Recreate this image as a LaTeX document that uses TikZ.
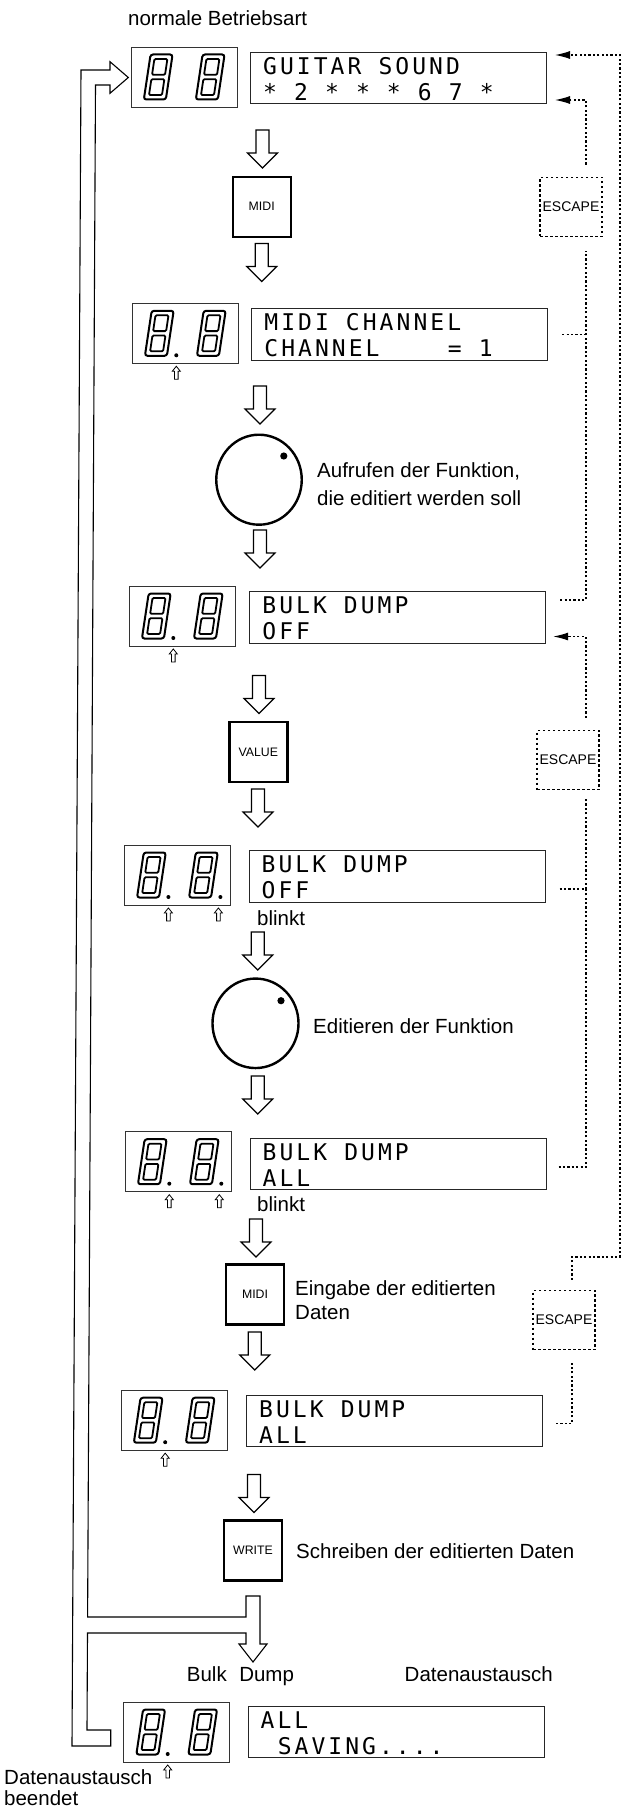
\documentclass[tikz,border=0pt]{standalone}
\usepackage{fontspec}
\setmainfont{Liberation Sans}
\newfontfamily\lcdfont[LetterSpace=13.2]{DejaVu Sans Mono}
\usetikzlibrary{arrows.meta,calc,shapes.geometric}
\newlength\lcdpitch
\setlength\lcdpitch{17.1pt}
\tikzset{
  led/.style={draw=black!80, line width=0.9pt, minimum width=106pt, minimum height=60pt, inner sep=0pt},
  lcd/.style={draw=black!85, line width=1pt, minimum width=296pt, minimum height=51.5pt, inner sep=0pt},
  lcdtxt/.style={font=\lcdfont\fontsize{23}{23}\selectfont, anchor=base west, inner sep=0pt},
  btn/.style={draw, line width=2.4pt, minimum width=58pt, minimum height=60pt, inner sep=0pt, font=\fontsize{12.3}{14}\selectfont},
  escbox/.style={draw, line width=1.1pt, dash pattern=on 2.5pt off 2.5pt, minimum width=62pt, minimum height=59pt, inner sep=0pt, font=\fontsize{14}{16}\selectfont},
  knob/.style={draw, ellipse, line width=2.4pt, inner sep=0pt},
  lbl/.style={font=\fontsize{20.5}{24}\selectfont, anchor=base west, inner sep=0pt},
  esc/.style={line width=1.2pt, dash pattern=on 2.2pt off 2.2pt},
  escarrow/.style={esc, -{Latex[length=15pt,width=8pt]}},
  pipe/.style={line width=1.1pt, line join=miter},
  digit/.pic={
    \begin{scope}[xslant=0.15]
      \draw[line width=2pt, rounded corners=2.5pt] (-11,-22.5) rectangle (11,22.5);
      \draw[line width=1.8pt, rounded corners=1.2pt] (-6.5,-18) rectangle (6.5,-2.2);
      \draw[line width=1.8pt, rounded corners=1.2pt] (-6.5,2.2) rectangle (6.5,18);
    \end{scope}},
  bigarrow/.pic={
    \draw[line width=1.2pt, line join=miter] (-6.5,0) -- (-6.5,23) -- (-15,23) -- (0,38) -- (15,23) -- (6.5,23) -- (6.5,0) -- cycle;},
  smallarrow/.pic={
    \draw[line width=0.8pt] (0,0) -- (4,5) -- (1.8,5) -- (1.8,13) -- (-1.8,13) -- (-1.8,5) -- (-4,5) -- cycle;}
}
\newcommand\lsp{\hspace*{\lcdpitch}}
\newcommand\ledunit[4]{%
  \node[led] (#1) at (#2,#3) {};
  \pic at ($(#1)+(-26,0)$) {digit};
  \pic at ($(#1)+(26,0)$) {digit};
  \ifnum#4>0
    \fill ($(#1)+(-9,22)$) circle (2pt);
    \pic at ($(#1.south)+(-9,2.5)$) {smallarrow};
  \fi
  \ifnum#4>1
    \fill ($(#1)+(43,22)$) circle (2pt);
    \pic at ($(#1.south)+(41,2.5)$) {smallarrow};
  \fi
}
\newcommand\lcdunit[5]{%
  \node[lcd] (#1) at (#2,#3) {};
  \node[lcdtxt] at ($(#1.north west)+(13,22.5)$) {#4};
  \node[lcdtxt] at ($(#1.north west)+(13,48.5)$) {#5};
}
\begin{document}
\begin{tikzpicture}[x=1pt,y=-1pt]
\useasboundingbox (0,0) rectangle (625,1809);

% ---- display rows
\ledunit{led1}{184.2}{77}{0}
\lcdunit{lcd1}{398.5}{78}{GUITAR\lsp SOUND}{*\lsp 2\lsp *\lsp *\lsp *\lsp 6\lsp 7\lsp *}
\ledunit{led2}{185.3}{333.3}{1}
\lcdunit{lcd2}{399.7}{334.5}{MIDI\lsp CHANNEL}{CHANNEL\lsp\lsp\lsp\lsp =\lsp 1}
\ledunit{led3}{182.3}{616}{1}
\lcdunit{lcd3}{397.7}{617.5}{BULK\lsp DUMP}{OFF}
\ledunit{led4}{177.4}{875}{2}
\lcdunit{lcd4}{397}{876.5}{BULK\lsp DUMP}{OFF}
\ledunit{led5}{178.3}{1161.7}{2}
\lcdunit{lcd5}{398}{1164}{BULK\lsp DUMP}{ALL}
\ledunit{led6}{174.2}{1420.2}{1}
\lcdunit{lcd6}{394.5}{1421}{BULK\lsp DUMP}{ALL}
\ledunit{led7}{176.7}{1732}{1}
\lcdunit{lcd7}{396}{1732}{ALL}{\lsp SAVING....}

% ---- buttons and knobs
\node[btn] (midi1) at (261.7,206.7) {MIDI};
\node[btn] (value) at (258.3,752) {VALUE};
\node[btn] (midi2) at (255,1294.5) {MIDI};
\node[btn] (write) at (253,1550.3) {WRITE};
\node[escbox] (esc1) at (571,206.7) {ESCAPE};
\node[escbox] (esc2) at (568,760) {ESCAPE};
\node[escbox] (esc3) at (564,1320) {ESCAPE};
\node[knob, minimum width=85.5pt, minimum height=90pt] (knob1) at (259,479.7) {};
\fill (283.8,456) circle (3.6pt);
\node[knob, minimum width=86pt, minimum height=89.5pt] (knob2) at (255.5,1023.3) {};
\fill (281,1000.7) circle (3.6pt);

% ---- hollow flow arrows
\pic at (262.5,130) {bigarrow};
\pic at (261.7,243.5) {bigarrow};
\pic at (260,386) {bigarrow};
\pic at (260,530) {bigarrow};
\pic at (259,675.5) {bigarrow};
\pic at (258,789) {bigarrow};
\pic at (257.7,932) {bigarrow};
\pic at (257.7,1076) {bigarrow};
\pic at (256,1219) {bigarrow};
\pic at (254.8,1332) {bigarrow};
\pic at (254,1474.5) {bigarrow};

% ---- return pipe
\draw[pipe] (81,70) -- (110,70) -- (110,61.7) -- (128.3,77.5) -- (110,93.3) -- (110,85)
  -- (95.5,85) -- (87.6,1617) -- (246,1617) -- (246,1596) -- (260,1596) -- (260,1644)
  -- (267,1644) -- (253,1662) -- (239,1644) -- (246,1644) -- (246,1633) -- (87.5,1633)
  -- (87,1730) -- (110.7,1730) -- (110.7,1746) -- (72,1746) -- cycle;

% ---- labels
\node[lbl] (t1) at (128,26) {normale Betriebsart};
\node[lbl] (t2) at (317,477) {Aufrufen der Funktion,};
\node[lbl] (t3) at (317,505) {die editiert werden soll};
\node[lbl] (t4) at (257,925) {blinkt};
\node[lbl] (t5) at (313,1033) {Editieren der Funktion};
\node[lbl] (t6) at (257,1211) {blinkt};
\node[lbl] (t7) at (295,1295) {Eingabe der editierten};
\node[lbl] (t8) at (295,1319) {Daten};
\node[lbl] (t9) at (296,1558) {Schreiben der editierten Daten};
\node[lbl] (t10) at (186.7,1681) {Bulk\hspace{12.5pt}Dump};
\node[lbl] (t11) at (404.5,1681.7) {Datenaustausch};
\node[lbl] (t12) at (4,1784) {Datenaustausch};
\node[lbl] (t13) at (4,1805.5) {beendet};

% ---- escape routes
\coordinate (jb) at (586,889);
\coordinate (jc1) at (572,1257);
\coordinate (jc2) at (620,1257);
\coordinate (jc3) at (620,55);
\draw[esc, shorten <=14pt] (lcd2.east) -- (586,334.5);
\draw[esc, shorten <=14pt, shorten >=14pt] ([yshift=17.5pt]lcd3.east) -| ([xshift=15pt]esc1.south);
\draw[escarrow, shorten <=12pt, shorten >=8pt] ([xshift=15pt]esc1.north) |- ([yshift=-22pt]lcd1.east);
\draw[esc, shorten <=14pt, shorten >=9pt] ([yshift=-12.5pt]lcd4.east) -| ([xshift=18pt]esc2.south);
\draw[esc, shorten <=12pt] ([yshift=-3pt]lcd5.east) -| (jb);
\draw[escarrow, shorten <=12pt, shorten >=7pt] ([xshift=18pt]esc2.north) |- ([yshift=-19pt]lcd3.east);
\draw[esc, shorten <=13pt, shorten >=13pt] ([yshift=-2.3pt]lcd6.east) -| ([xshift=8pt]esc3.south);
\draw[escarrow, shorten <=10pt, shorten >=8pt] ([xshift=8pt]esc3.north) -- (jc1) -- (jc2) -- (jc3) -- ([yshift=23pt]lcd1.east);
\end{tikzpicture}
\end{document}
